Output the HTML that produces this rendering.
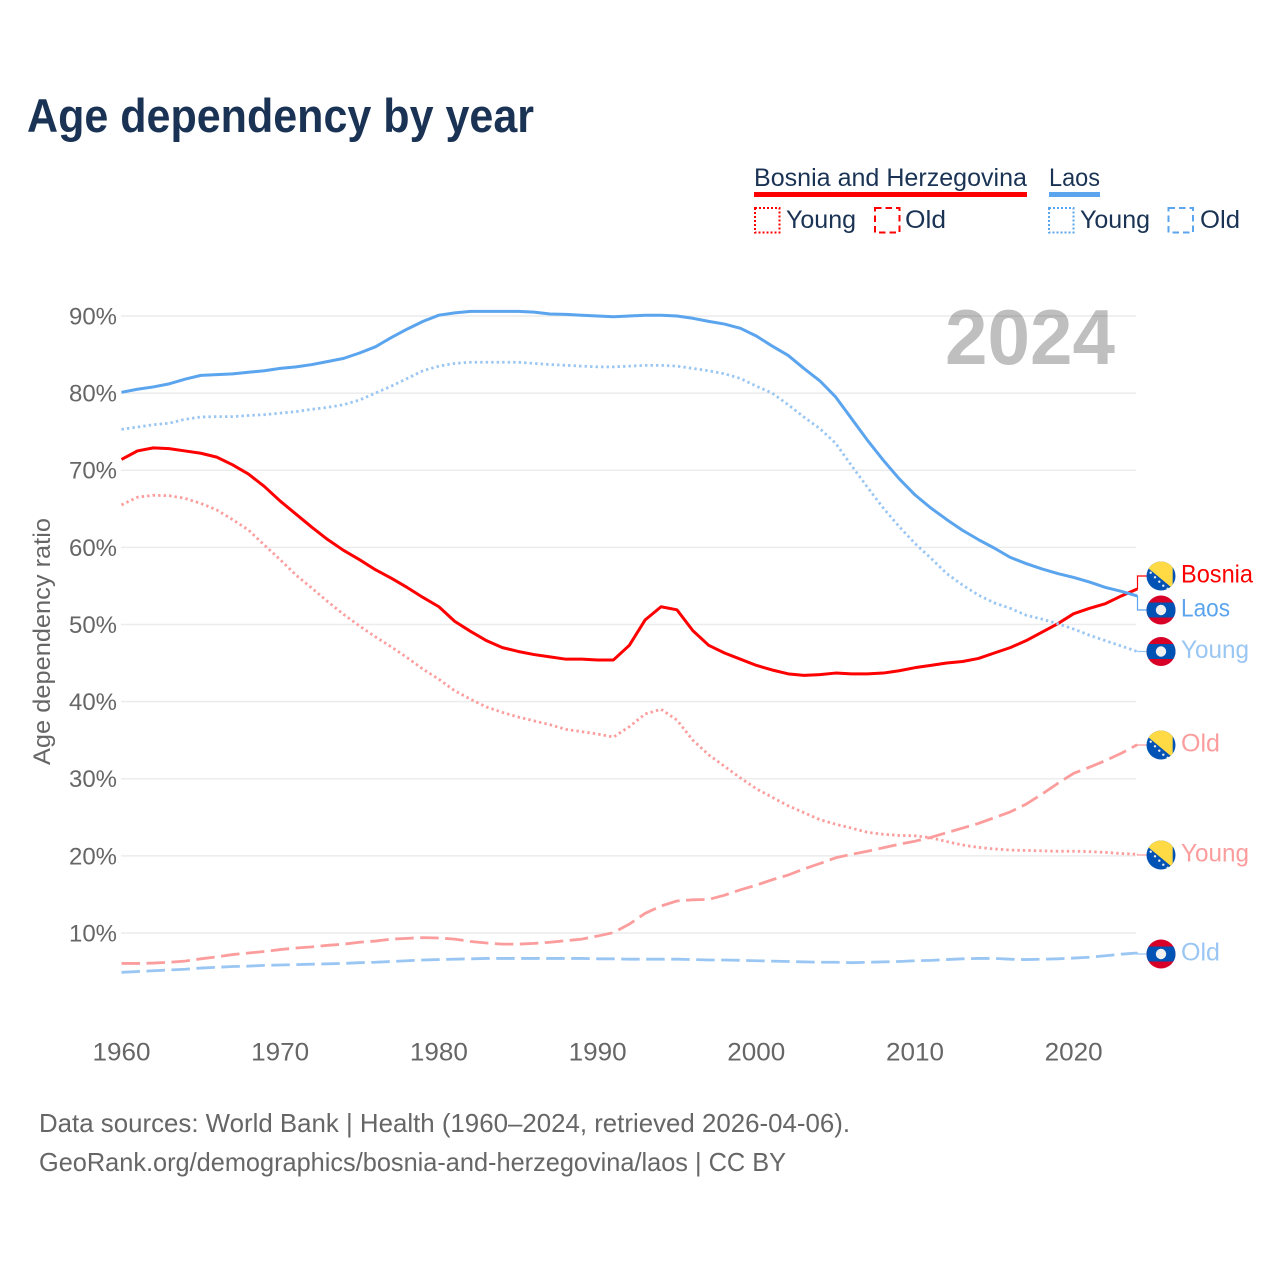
<!DOCTYPE html>
<html lang="en">
<head>
<meta charset="utf-8">
<title>Age dependency by year</title>
<style>
html,body{margin:0;padding:0;background:#fff;width:1280px;height:1280px;overflow:hidden}
svg{display:block}
text{font-family:"Liberation Sans",sans-serif}
</style>
</head>
<body>
<svg id="chart" xmlns="http://www.w3.org/2000/svg" width="1280" height="1280" viewBox="0 0 1280 1280">
  <defs>
    <clipPath id="flag-clip"><circle cx="0" cy="0" r="14.5"/></clipPath>
    <g id="flag-bosnia" clip-path="url(#flag-clip)">
      <rect x="-15" y="-15" width="30" height="30" fill="#0052b4"/>
      <polygon points="-13,-8 -5,-16 11.7,-16 11.7,12.5" fill="#ffda44"/>
      <circle cx="-10.3" cy="-3.3" r="1.2" fill="#f0f0f0"/>
      <circle cx="-6" cy="1.3" r="1.2" fill="#f0f0f0"/>
      <circle cx="-1.7" cy="5.7" r="1.2" fill="#f0f0f0"/>
      <circle cx="2.3" cy="9.7" r="1.2" fill="#f0f0f0"/>
      <circle cx="6.7" cy="12.8" r="1.2" fill="#f0f0f0"/>
    </g>
    <g id="flag-laos" clip-path="url(#flag-clip)">
      <rect x="-15" y="-15" width="30" height="30" fill="#d80027"/>
      <rect x="-15" y="-7.5" width="30" height="15" fill="#0052b4"/>
      <circle cx="0" cy="0" r="5.2" fill="#f0f0f0"/>
    </g>
  </defs>

  <text x="27" y="132" font-size="47" font-weight="700" fill="#1a3354" textLength="507" lengthAdjust="spacingAndGlyphs">Age dependency by year</text>

  <g font-size="25" fill="#1a3354">
    <text x="754" y="186" textLength="273" lengthAdjust="spacingAndGlyphs">Bosnia and Herzegovina</text>
    <rect x="754" y="192" width="273" height="5" fill="#ff0000"/>
    <text x="1049" y="186" textLength="51" lengthAdjust="spacingAndGlyphs">Laos</text>
    <rect x="1049" y="192" width="51" height="5" fill="#5ba4ee"/>
    <rect x="755" y="208" width="24.5" height="24.5" fill="none" stroke="#ff0000" stroke-width="2" stroke-dasharray="2 2"/>
    <text x="786" y="228" textLength="70" lengthAdjust="spacingAndGlyphs">Young</text>
    <rect x="875" y="208" width="24.5" height="24.5" fill="none" stroke="#ff0000" stroke-width="2" stroke-dasharray="6.5 4"/>
    <text x="905" y="228" textLength="41" lengthAdjust="spacingAndGlyphs">Old</text>
    <rect x="1049" y="208" width="24.5" height="24.5" fill="none" stroke="#5ba4ee" stroke-width="2" stroke-dasharray="2 2"/>
    <text x="1080" y="228" textLength="70" lengthAdjust="spacingAndGlyphs">Young</text>
    <rect x="1168.5" y="208" width="24.5" height="24.5" fill="none" stroke="#5ba4ee" stroke-width="2" stroke-dasharray="6.5 4"/>
    <text x="1200" y="228" textLength="40" lengthAdjust="spacingAndGlyphs">Old</text>
  </g>

  <g id="grid"></g>
  <g id="y-ticks"></g>
  <g id="x-ticks"></g>
  <text transform="translate(50,765) rotate(-90)" font-size="24" fill="#666" textLength="247" lengthAdjust="spacingAndGlyphs">Age dependency ratio</text>

  <g id="series"></g>

  <text x="945" y="364" font-size="78" font-weight="700" fill="#000" fill-opacity="0.25" textLength="170" lengthAdjust="spacingAndGlyphs">2024</text>

  <g id="end-labels"></g>

  <text x="39" y="1132" font-size="26" fill="#666" textLength="811" lengthAdjust="spacingAndGlyphs">Data sources: World Bank | Health (1960–2024, retrieved 2026-04-06).</text>
  <text x="39" y="1171" font-size="26" fill="#666" textLength="747" lengthAdjust="spacingAndGlyphs">GeoRank.org/demographics/bosnia-and-herzegovina/laos | CC BY</text>
</svg>

<script>
const startYear = 1960;
const yTickValues = [10, 20, 30, 40, 50, 60, 70, 80, 90];
const yTickLabels = ["10%", "20%", "30%", "40%", "50%", "60%", "70%", "80%", "90%"];
const xTickValues = [1960, 1970, 1980, 1990, 2000, 2010, 2020];
const xTickLabels = ["1960", "1970", "1980", "1990", "2000", "2010", "2020"];

const bosniaTotal = [
  71.4,72.5,72.9,72.8,72.5,72.2,71.7,70.7,69.5,67.9,
  66.0,64.3,62.6,61.0,59.6,58.4,57.1,56.0,54.8,53.5,
  52.3,50.4,49.1,47.9,47.0,46.5,46.1,45.8,45.5,45.5,
  45.4,45.4,47.3,50.6,52.3,51.9,49.2,47.3,46.3,45.5,
  44.7,44.1,43.6,43.4,43.5,43.7,43.6,43.6,43.7,44.0,
  44.4,44.7,45.0,45.2,45.6,46.3,47.0,47.9,49.0,50.1,
  51.4,52.1,52.7,53.7,54.6];
const bosniaYoung = [
  65.5,66.5,66.75,66.7,66.35,65.7,64.85,63.6,62.25,60.3,
  58.4,56.4,54.7,52.95,51.3,49.8,48.4,47.1,45.7,44.2,
  42.9,41.4,40.3,39.3,38.6,38.0,37.5,37.0,36.4,36.1,
  35.8,35.4,36.75,38.4,39.0,37.6,35.0,33.1,31.6,30.1,
  28.7,27.6,26.5,25.6,24.7,24.1,23.6,23.05,22.8,22.65,
  22.6,22.35,21.85,21.4,21.1,20.9,20.75,20.7,20.65,20.6,
  20.6,20.55,20.45,20.3,20.2];
const bosniaOld = [
  6.05,6.05,6.1,6.2,6.35,6.65,6.9,7.2,7.4,7.6,
  7.85,8.05,8.2,8.4,8.55,8.8,8.95,9.2,9.3,9.4,
  9.35,9.2,8.9,8.7,8.55,8.55,8.65,8.8,9.0,9.2,
  9.6,10.05,11.15,12.55,13.5,14.15,14.3,14.35,14.9,15.6,
  16.2,16.9,17.5,18.3,19.0,19.75,20.2,20.6,21.05,21.5,
  21.9,22.4,23.0,23.6,24.2,24.95,25.7,26.7,28.0,29.4,
  30.7,31.5,32.35,33.3,34.4];
const laosTotal = [
  80.1,80.5,80.8,81.2,81.8,82.3,82.4,82.5,82.7,82.9,
  83.2,83.4,83.7,84.1,84.5,85.2,86.0,87.2,88.3,89.3,
  90.1,90.4,90.6,90.6,90.6,90.6,90.5,90.25,90.2,90.1,
  90.0,89.9,90.0,90.1,90.1,90.0,89.7,89.3,88.95,88.4,
  87.4,86.1,84.9,83.2,81.6,79.5,76.7,73.9,71.3,68.9,
  66.8,65.1,63.6,62.2,61.0,59.9,58.7,57.9,57.2,56.6,
  56.1,55.5,54.8,54.3,53.7];
const laosYoung = [
  75.3,75.6,75.9,76.1,76.6,76.9,76.95,76.95,77.1,77.2,
  77.4,77.6,77.9,78.15,78.5,79.1,80.0,80.9,81.9,82.9,
  83.5,83.85,84.0,84.0,84.0,84.0,83.85,83.7,83.6,83.5,
  83.4,83.4,83.5,83.6,83.6,83.5,83.2,82.9,82.5,81.9,
  80.9,80.0,78.5,76.9,75.4,73.5,70.6,67.8,65.1,62.7,
  60.5,58.6,56.6,55.1,53.8,52.8,52.1,51.2,50.7,50.1,
  49.4,48.6,47.9,47.2,46.5];
const laosOld = [
  4.9,5.0,5.1,5.2,5.3,5.45,5.55,5.65,5.7,5.8,
  5.85,5.9,5.95,6.0,6.05,6.15,6.2,6.3,6.4,6.5,
  6.55,6.6,6.65,6.7,6.7,6.7,6.7,6.7,6.7,6.7,
  6.65,6.65,6.6,6.6,6.6,6.6,6.55,6.5,6.5,6.45,
  6.4,6.35,6.3,6.25,6.2,6.2,6.15,6.2,6.25,6.3,
  6.4,6.45,6.55,6.65,6.7,6.7,6.6,6.55,6.6,6.65,
  6.75,6.85,7.05,7.25,7.4];

const SVGNS = "http://www.w3.org/2000/svg";
function xScale(year) { return 121.5 + (year - 1960) * 15.87; }
function yScale(v) { return 1010.1 - v * 7.7125; }
function make(tag, attrs) {
  const el = document.createElementNS(SVGNS, tag);
  for (const k in attrs) el.setAttribute(k, attrs[k]);
  return el;
}

const gridG = document.getElementById("grid");
const yTicksG = document.getElementById("y-ticks");
yTickValues.forEach(function (v, i) {
  const line = make("line", { x1: 121, x2: 1136, y1: yScale(v), y2: yScale(v), stroke: "#ececec", "stroke-width": 1.5 });
  
  
  gridG.appendChild(line);
  const t = make("text", { x: 117, y: yScale(v) + 8.5, "text-anchor": "end", "font-size": 24, fill: "#666", textLength: 48, lengthAdjust: "spacingAndGlyphs" });
  
  
  t.textContent = yTickLabels[i];
  yTicksG.appendChild(t);
});

const xTicksG = document.getElementById("x-ticks");
xTickValues.forEach(function (yr, i) {
  const t = make("text", { x: xScale(yr), y: 1060.5, "text-anchor": "middle", "font-size": 25, fill: "#666", textLength: 58, lengthAdjust: "spacingAndGlyphs" });
  
  
  t.textContent = xTickLabels[i];
  xTicksG.appendChild(t);
});

function pointsOf(values) {
  return values.map(function (v, i) {
    return xScale(startYear + i).toFixed(2) + "," + yScale(v).toFixed(2);
  }).join(" ");
}
function drawLine(values, color, width, dash, name) {
  const pl = make("polyline", { points: pointsOf(values), fill: "none", stroke: color, "stroke-width": width, "stroke-linejoin": "round" });
  if (dash) pl.setAttribute("stroke-dasharray", dash);
  
  
  document.getElementById("series").appendChild(pl);
}
const DOT = "2.4 3.1", DASH = "18.5 6.5";
drawLine(bosniaYoung, "#fc9d9d", 2.8, DOT, "line-bosnia-young");
drawLine(bosniaOld, "#fc9d9d", 2.8, DASH, "line-bosnia-old");
drawLine(bosniaTotal, "#ff0000", 3, "", "line-bosnia-total");
drawLine(laosYoung, "#9ac6f3", 2.8, DOT, "line-laos-young");
drawLine(laosOld, "#9ac6f3", 2.8, DASH, "line-laos-old");
drawLine(laosTotal, "#5ba4ee", 3, "", "line-laos-total");

const endG = document.getElementById("end-labels");
function endLabel(series, labelY, text, color, flag, width, name) {
  const yEnd = yScale(series[series.length - 1]);
  const x0 = xScale(2024);
  const path = make("path", { d: "M" + x0 + " " + yEnd + " H1137.5 V" + labelY + " H1147", fill: "none", stroke: color, "stroke-width": 1.2 });
  
  
  endG.appendChild(path);
  const use = make("use", { href: "#flag-" + flag, transform: "translate(1161," + labelY + ")" });
  
  
  endG.appendChild(use);
  const t = make("text", { x: 1181, y: labelY + 6.5, "font-size": 25, fill: color, textLength: width, lengthAdjust: "spacingAndGlyphs" });
  
  
  t.textContent = text;
  endG.appendChild(t);
}
endLabel(bosniaTotal, 576, "Bosnia", "#ff0000", "bosnia", 72, "end-bosnia-total");
endLabel(laosTotal, 610, "Laos", "#5ba4ee", "laos", 49, "end-laos-total");
endLabel(laosYoung, 651.5, "Young", "#9ac6f3", "laos", 68, "end-laos-young");
endLabel(bosniaOld, 745, "Old", "#fc9d9d", "bosnia", 39, "end-bosnia-old");
endLabel(bosniaYoung, 855, "Young", "#fc9d9d", "bosnia", 68, "end-bosnia-young");
endLabel(laosOld, 954, "Old", "#9ac6f3", "laos", 39, "end-laos-old");
</script>
</body>
</html>
